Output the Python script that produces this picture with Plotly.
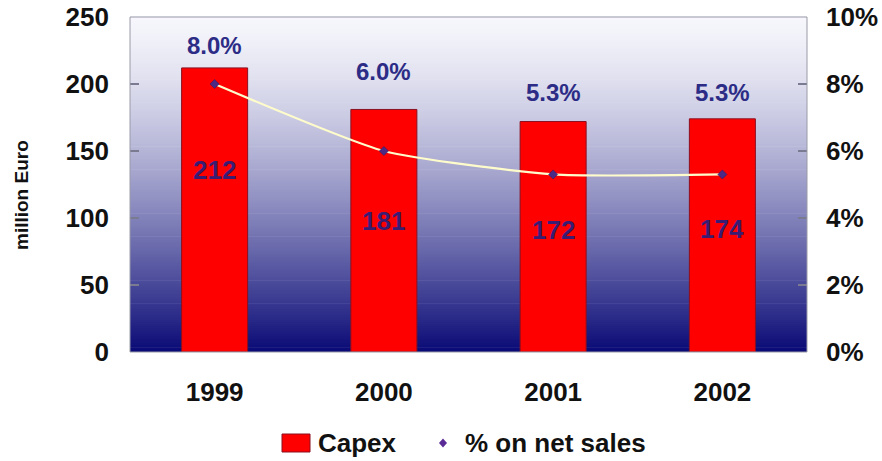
import plotly.graph_objects as go

# Capital expenditure and its share of net sales
years = ["1999", "2000", "2001", "2002"]
capex = [212, 181, 172, 174]
pct_net_sales = [0.080, 0.060, 0.053, 0.053]
pct_labels = ["8.0%", "6.0%", "5.3%", "5.3%"]

# label placement (y in million Euro on the left axis)
capex_label_y = [136, 98, 91, 92]
pct_label_y = [229, 209, 194, 194]

FONT = "Liberation Sans, Arial, sans-serif"
NAVY_TEXT = "#2c2c86"
VALUE_TEXT = "#3a1d72"

# plot area in pixels, used to place the hand-drawn legend
L, R, T, B = 130, 807, 17, 352
W, H = R - L, B - T


def px(x):
    return (x - L) / W


def py(y):
    return (B - y) / H


fig = go.Figure()

fig.add_trace(go.Bar(
    x=years, y=capex, name="Capex",
    marker=dict(color="#ff0000", line=dict(color="#8a1020", width=1)),
    showlegend=False, yaxis="y",
))

fig.add_trace(go.Scatter(
    x=years, y=pct_net_sales, name="% on net sales", yaxis="y2",
    mode="lines+markers",
    line=dict(color="#fffccc", width=2.2, shape="spline", smoothing=0.55),
    marker=dict(symbol="diamond", size=7, color="#4b2a86",
                line=dict(color="#2a1460", width=0.5)),
    showlegend=False,
))

# vertical gradient behind the plot area
shapes = []
n = 160
top = (246, 246, 252)
bot = (10, 10, 118)
for i in range(n):
    t = (i + 0.5) / n
    g = t ** 1.4
    c = tuple(round(top[k] + (bot[k] - top[k]) * g) for k in range(3))
    shapes.append(dict(
        type="rect", xref="paper", yref="paper", layer="below",
        x0=0, x1=1, y0=1 - (i + 1) / n, y1=1 - i / n + 0.002,
        fillcolor="rgb(%d,%d,%d)" % c, line=dict(width=0),
    ))
shapes.append(dict(type="rect", xref="paper", yref="paper", layer="above",
                   x0=0, x1=1, y0=0, y1=1, fillcolor="rgba(0,0,0,0)",
                   line=dict(color="#9a9aa8", width=1)))

# legend: red swatch and purple diamond
shapes.append(dict(type="rect", xref="paper", yref="paper",
                   x0=px(282), x1=px(310), y0=py(452), y1=py(434),
                   fillcolor="#ff0000", line=dict(color="#8a1020", width=1)))
dx, dy = 4, 4.5
cx, cy = 443, 443
shapes.append(dict(
    type="path", xref="paper", yref="paper",
    path="M %f %f L %f %f L %f %f L %f %f Z" % (
        px(cx), py(cy - dy), px(cx + dx), py(cy), px(cx), py(cy + dy),
        px(cx - dx), py(cy)),
    fillcolor="#5a2a96", line=dict(width=0),
))

annotations = []
for i, (yv, v) in enumerate(zip(capex_label_y, capex)):
    annotations.append(dict(x=i, y=yv, xref="x", yref="y", text=str(v),
                            showarrow=False, xanchor="center",
                            yanchor="middle",
                            font=dict(family=FONT, size=26, color=VALUE_TEXT,
                                      weight="bold")))
for i, (yv, t) in enumerate(zip(pct_label_y, pct_labels)):
    annotations.append(dict(x=i, y=yv, xref="x", yref="y", text=t,
                            showarrow=False, xanchor="center",
                            yanchor="middle",
                            font=dict(family=FONT, size=24, color=NAVY_TEXT,
                                      weight="bold")))
annotations.append(dict(x=px(22), y=py(195), xref="paper", yref="paper",
                        xanchor="center", yanchor="middle",
                        text="million Euro", textangle=-90, showarrow=False,
                        font=dict(family=FONT, size=19, color="#111111",
                                  weight="bold")))
annotations.append(dict(x=px(316), y=py(443), xref="paper", yref="paper",
                        xanchor="left", yanchor="middle",
                        text="Capex", showarrow=False,
                        font=dict(family=FONT, size=26, color="#111111",
                                  weight="bold")))
annotations.append(dict(x=px(463), y=py(443), xref="paper", yref="paper",
                        xanchor="left", yanchor="middle",
                        text="% on net sales", showarrow=False,
                        font=dict(family=FONT, size=26, color="#111111",
                                  weight="bold")))

tick_font = dict(family=FONT, size=26, color="#111111", weight="bold")

fig.update_layout(
    width=882, height=461,
    margin=dict(l=L, r=882 - R, t=T, b=461 - B),
    paper_bgcolor="white", plot_bgcolor="rgba(0,0,0,0)",
    bargap=0.61,
    shapes=shapes, annotations=annotations,
    xaxis=dict(type="category", range=[-0.5, 3.5], showgrid=False,
               showline=False, ticks="", tickfont=tick_font,
               ticklabelstandoff=22, zeroline=False, automargin=False),
    yaxis=dict(range=[0, 250], dtick=50, showgrid=False, zeroline=False,
               ticks="inside", ticklen=9, tickcolor="#7a7a90", tickwidth=1.5,
               tickfont=tick_font, ticklabelstandoff=20, automargin=False),
    yaxis2=dict(range=[0, 0.10], dtick=0.02, tickformat=".0%",
                overlaying="y", side="right", showgrid=False, zeroline=False,
                ticks="inside", ticklen=9, tickcolor="#7a7a90", tickwidth=1.5,
                tickfont=tick_font, ticklabelstandoff=18, automargin=False),
)

fig.write_html("out.html")
